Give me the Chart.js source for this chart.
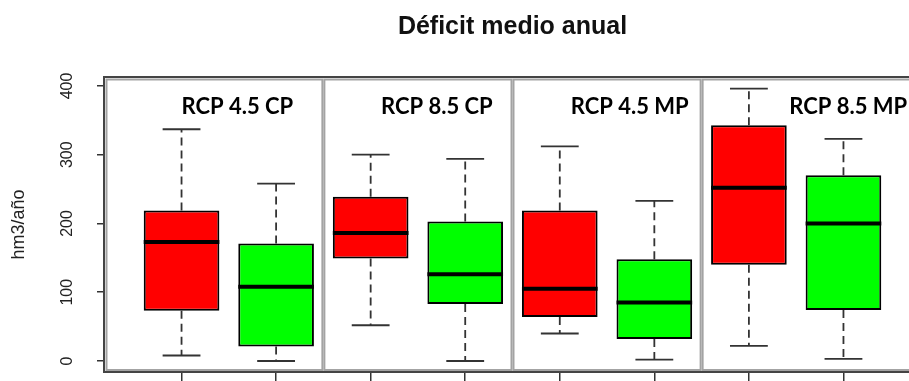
<!DOCTYPE html>
<html>
<head>
<meta charset="utf-8">
<script src="https://cdn.jsdelivr.net/npm/chart.js@4.4.1/dist/chart.umd.min.js"></script>
<style>
html, body { margin: 0; padding: 0; background: #fff; overflow: hidden; }
#wrap { position: relative; width: 930px; height: 381px; }
</style>
</head>
<body>
<div id="wrap"><canvas id="deficitChart"></canvas></div>
<script>
// Déficit medio anual (hm3/año), boxplots por escenario
const panels = ['RCP 4.5 CP', 'RCP 8.5 CP', 'RCP 4.5 MP', 'RCP 8.5 MP'];
const positions = [1, 2, 3, 4, 5, 6, 7, 8];
const whiskerLow = [8, 0, 52, 0, 40, 2, 22, 3];
const q1 = [73, 21, 149, 83, 64, 32, 140, 74];
const medians = [173, 108, 186, 126, 105, 85, 252, 200];
const q3 = [219, 171, 239, 203, 219, 148, 343, 270];
const whiskerHigh = [337, 258, 300, 294, 312, 233, 396, 323];
const yTicks = [0, 100, 200, 300, 400];
const boxColors = ['#ff0000', '#00ff00', '#ff0000', '#00ff00', '#ff0000', '#00ff00', '#ff0000', '#00ff00'];

// whiskers, medians, panel frames and panel names
const boxplotParts = {
    id: 'boxplotParts',
    beforeDatasetsDraw(chart, args, opts) {
        const { ctx, chartArea: a, scales: { x, y } } = chart;
        const meta = chart.getDatasetMeta(0);
        ctx.save();

        // panel frames (one per pair of boxes)
        ctx.strokeStyle = '#a3a3a3';
        ctx.lineWidth = 2;
        panels.forEach((p, i) => {
            const left = i === 0 ? a.left + 2.5 : x.getPixelForValue(i * 2 + 0.5) + 1;
            const right = i === panels.length - 1 ? a.right + 5 : x.getPixelForValue(i * 2 + 2.5) - 1;
            ctx.strokeRect(left, a.top + 2.5, right - left, a.bottom - a.top - 4.5);
        });

        // whiskers
        ctx.strokeStyle = '#333';
        ctx.lineWidth = 1.8;
        meta.data.forEach((bar, i) => {
            const cx = bar.x;
            const cap = bar.width / 4;
            ctx.setLineDash([8, 5]);
            ctx.beginPath();
            ctx.moveTo(cx, y.getPixelForValue(q3[i]));
            ctx.lineTo(cx, y.getPixelForValue(whiskerHigh[i]));
            ctx.moveTo(cx, y.getPixelForValue(q1[i]));
            ctx.lineTo(cx, y.getPixelForValue(whiskerLow[i]));
            ctx.stroke();
            ctx.setLineDash([]);
            ctx.beginPath();
            ctx.moveTo(cx - cap, y.getPixelForValue(whiskerHigh[i]));
            ctx.lineTo(cx + cap, y.getPixelForValue(whiskerHigh[i]));
            ctx.moveTo(cx - cap, y.getPixelForValue(whiskerLow[i]));
            ctx.lineTo(cx + cap, y.getPixelForValue(whiskerLow[i]));
            ctx.stroke();
        });
        ctx.restore();
    },
    afterDatasetsDraw(chart, args, opts) {
        const { ctx, chartArea: a, scales: { x, y } } = chart;
        const meta = chart.getDatasetMeta(0);
        ctx.save();
        ctx.strokeStyle = '#000';
        ctx.lineWidth = 4;
        meta.data.forEach((bar, i) => {
            const py = y.getPixelForValue(medians[i]);
            ctx.beginPath();
            ctx.moveTo(bar.x - bar.width / 2, py);
            ctx.lineTo(bar.x + bar.width / 2, py);
            ctx.stroke();
        });

        // plot box
        ctx.strokeStyle = '#444';
        ctx.lineWidth = 2;
        ctx.strokeRect(a.left, a.top, a.right - a.left, a.bottom - a.top);

        // panel names
        ctx.fillStyle = '#000';
        ctx.font = 'bold 22px Lato';
        ctx.textAlign = 'center';
        ctx.textBaseline = 'middle';
        panels.forEach((p, i) => {
            ctx.fillText(p, x.getPixelForValue(opts.labelX[i]), a.top + 30);
        });
        ctx.restore();
    }
};

const deficitCtx = document.getElementById('deficitChart').getContext('2d');
const deficitChart = new Chart(deficitCtx, {
    type: 'bar',
    data: {
        datasets: [{
            data: positions.map((p, i) => ({ x: p, y: [q1[i], q3[i]] })),
            backgroundColor: boxColors,
            borderColor: '#000',
            borderWidth: 2,
            borderSkipped: false,
            categoryPercentage: 1,
            barPercentage: 0.8,
        }]
    },
    options: {
        responsive: true,
        maintainAspectRatio: false,
        animation: false,
        layout: { padding: { left: 0, right: 9, top: 0, bottom: 0 } },
        scales: {
            x: {
                type: 'linear',
                min: 0.18,
                max: 8.82,
                offset: false,
                afterBuildTicks: (axis) => { axis.ticks = positions.map(v => ({ value: v })); },
                afterFit: (axis) => { axis.height = 9; axis.paddingLeft = 0; axis.paddingRight = 0; },
                grid: { offset: false, drawOnChartArea: false, tickLength: 9, color: '#333', lineWidth: 1.5 },
                border: { display: false },
                ticks: { display: false },
            },
            y: {
                min: -16,
                max: 413,
                afterBuildTicks: (axis) => { axis.ticks = yTicks.map(v => ({ value: v })); },
                afterFit: (axis) => { axis.width = 104; axis.paddingTop = 0; axis.paddingBottom = 0; },
                grid: { drawOnChartArea: false, tickLength: 7, color: '#333', lineWidth: 1.5 },
                border: { display: false },
                ticks: {
                    minRotation: 90,
                    maxRotation: 90,
                    crossAlign: 'center',
                    padding: 16,
                    color: '#222',
                    font: { family: 'Liberation Sans', size: 16 },
                },
                title: {
                    display: true,
                    text: 'hm3/año',
                    color: '#222',
                    font: { family: 'Liberation Sans', size: 18 },
                    padding: { top: 8, bottom: 0 },
                },
            },
        },
        plugins: {
            legend: { display: false },
            tooltip: { enabled: false },
            title: {
                display: true,
                fullSize: false,
                text: 'Déficit medio anual',
                color: '#111',
                font: { family: 'Liberation Sans', size: 25, weight: 'bold' },
                padding: { top: 12, bottom: 35 },
            },
            boxplotParts: { labelX: [1.59, 3.70, 5.74, 8.05] },
        },
    },
    plugins: [boxplotParts],
});
</script>
</body>
</html>
